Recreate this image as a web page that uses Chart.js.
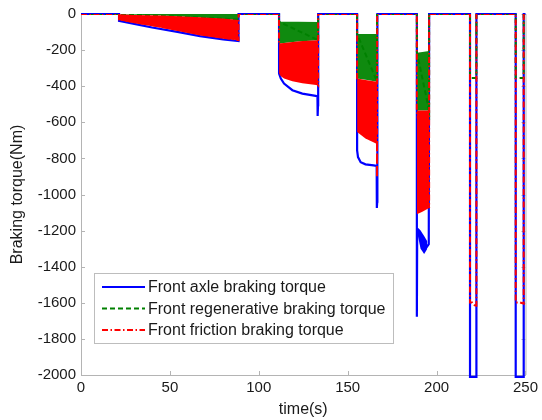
<!DOCTYPE html>
<html><head><meta charset="utf-8">
<script src="https://cdn.jsdelivr.net/npm/chart.js@4.4.0/dist/chart.umd.min.js"></script>
<style>html,body{margin:0;padding:0;background:#fff}#wrap{width:542px;height:420px}</style>
</head><body><div id="wrap"><canvas id="c" width="542" height="420"></canvas></div>
<script>
// ---- tick values ----
const xTickValues = [0, 50, 100, 150, 200, 250];
const yTickValues = [-2000, -1800, -1600, -1400, -1200, -1000, -800, -600, -400, -200, 0];

// ---- series labels ----
const seriesLabels = ['Front axle braking torque', 'Front regenerative braking torque', 'Front friction braking torque'];

// ---- Front axle braking torque (blue) ----
const axleT = [0, 21.4, 21.4, 30, 40, 55, 67, 80, 88.6, 88.6,
  111.4, 111.4, 112.4, 114.2, 118.9, 124.5, 132.0, 133.0, 133.1, 133.3, 133.4,
  155.3, 155.3, 155.8, 157.3, 160, 164.6, 166.3, 166.4, 166.6, 166.7,
  188.9, 188.9, 189.1, 190, 191.5, 193, 194.5, 195.6, 195.8,
  218.8, 218.8, 222.4, 222.4,
  244.5, 244.5, 249.0, 249.0, 250];
const axleV = [0, 0, -38, -55, -75, -100, -123, -141, -150, 0,
  0, -330, -358, -385, -422, -441, -454, -456, -565, -505, 0,
  0, -756, -793, -821, -833, -839, -842, -1075, -1040, 0,
  0, -1677, -1190, -1200, -1250, -1300, -1290, -1275, 0,
  0, -2010, -2010, 0,
  0, -2010, -2010, 0, 0];

// ---- Front regenerative braking torque (green) ----
const regenT = [0, 21.4, 88.6, 88.6, 111.4, 111.4, 133.4, 133.4, 155.3, 155.3, 166.5, 166.5,
  188.9, 188.9, 195.8, 195.8, 218.8, 218.8, 222.4, 222.4, 244.5, 244.5, 249.0, 249.0, 250];
const regenV = [0, 0, -30, 0, 0, -43, -145, 0, 0, -111, -375, 0,
  0, -210, -535, 0, 0, -355, -355, 0, 0, -355, -355, 0, 0];

// ---- Front friction braking torque (red) ----
const fricT = [0, 21.4, 21.4, 88.6, 88.6, 111.4, 111.4, 133.4, 133.4, 155.3, 155.3, 166.5, 166.5, 166.6,
  188.9, 188.9, 195.8, 195.8, 218.8, 218.8, 220, 222.4, 222.4, 244.5, 244.5, 247, 249.0, 249.0, 250];
const fricV = [0, 0, -30, -145, 0, 0, -163, -395, 0, 0, -358, -720, -905, 0,
  0, -535, -1075, 0, 0, -1598, -1598, -1625, 0, 0, -1598, -1598, -1605, 0, 0];

// ---- oscillation envelopes (dense switching regions) ----
const regenBandT  = [[21.4, 45, 65, 88.6], [111.4, 122, 133.4], [155.3, 161, 166.5], [188.9, 192, 195.8]];
const regenBandHi = [[0, 0, 0, 0], [-43, -43, -45], [-111, -111, -111], [-215, -210, -205]];
const regenBandLo = [[-2, -8, -18, -33], [-163, -152, -145], [-358, -365, -375], [-535, -535, -535]];

const fricBandT  = [[21.4, 30, 45, 55, 67, 80, 88.6], [111.4, 112.4, 114.2, 118.9, 124.5, 133.4], [155.3, 160, 166.5], [188.9, 192, 195.8]];
const fricBandHi = [[-2, -5, -9, -13, -18, -25, -33], [-163, -162, -160, -155, -150, -145], [-358, -365, -375], [-535, -535, -535]];
const fricBandLo = [[-34, -51, -76, -96, -119, -137, -146], [-330, -345, -358, -372, -383, -395], [-654, -690, -720], [-1110, -1095, -1075]];

const axleBandT  = [[189.5, 191, 193, 194.8]];
const axleBandHi = [[-1185, -1200, -1230, -1260]];
const axleBandLo = [[-1230, -1300, -1330, -1300]];

// ---- build datasets ----
const FONT = 'Liberation Sans, Arial, Helvetica, sans-serif';
const pts = (ts, vs) => ts.map((x, i) => ({x, y: vs[i]}));
const datasets = [];
datasets.push({label: seriesLabels[2], data: pts(fricT, fricV), borderColor: '#ff0000', borderWidth: 2,
  borderDash: [6, 2.5, 1.5, 2.5], pointRadius: 0, fill: false, order: 10, main: true});
datasets.push({label: seriesLabels[1], data: pts(regenT, regenV), borderColor: '#008000', borderWidth: 2,
  borderDash: [5, 3], pointRadius: 0, fill: false, order: 30, main: true});
datasets.push({label: seriesLabels[0], data: pts(axleT, axleV), borderColor: '#0000ff', borderWidth: 2.2,
  pointRadius: 0, fill: false, order: 50, main: true, clip: {left: 2, right: 2, top: 2, bottom: 6}});

function addBand(ts, his, los, color, order) {
  ts.forEach((t, s) => {
    const hiIdx = datasets.length;
    datasets.push({data: pts(t, his[s]), borderWidth: 0, borderColor: 'rgba(0,0,0,0)', pointRadius: 0, fill: false, order});
    datasets.push({data: pts(t, los[s]), borderWidth: 0, borderColor: 'rgba(0,0,0,0)', pointRadius: 0,
      fill: hiIdx, backgroundColor: color, order});
  });
}
addBand(axleBandT, axleBandHi, axleBandLo, '#0000ff', 45);
addBand(regenBandT, regenBandHi, regenBandLo, '#0f8a0f', 40);
addBand(fricBandT, fricBandHi, fricBandLo, '#ff0000', 20);

const AXIS_COLOR = '#b4b4b4';
const TEXT_COLOR = '#1a1a1a';

const inwardTicks = {
  id: 'inwardTicks',
  beforeDatasetsDraw(chart) {
    const {ctx, chartArea: a, scales: {x, y}} = chart;
    ctx.save();
    ctx.strokeStyle = AXIS_COLOR;
    ctx.lineWidth = 1;
    ctx.beginPath();
    x.ticks.forEach(t => {
      const px = Math.round(x.getPixelForValue(t.value)) + 0.5;
      ctx.moveTo(px, a.bottom); ctx.lineTo(px, a.bottom - 4);
    });
    y.ticks.forEach(t => {
      const py = Math.round(y.getPixelForValue(t.value)) + 0.5;
      ctx.moveTo(a.left, py); ctx.lineTo(a.left + 4, py);
      ctx.moveTo(a.right, py); ctx.lineTo(a.right - 4, py);
    });
    ctx.moveTo(a.right + 0.5, a.top); ctx.lineTo(a.right + 0.5, a.bottom);
    ctx.stroke();
    ctx.restore();
  }
};

const boxLegend = {
  id: 'boxLegend',
  afterDraw(chart) {
    const {ctx} = chart;
    const bx = 94, by = 273, bw = 299, bh = 70;
    ctx.save();
    ctx.fillStyle = '#fff';
    ctx.fillRect(bx, by, bw, bh);
    ctx.strokeStyle = '#bdbdbd';
    ctx.lineWidth = 1;
    ctx.strokeRect(bx + 0.5, by + 0.5, bw, bh);
    const order = [2, 1, 0];
    const rows = [287, 308.5, 330];
    ctx.font = '16px ' + FONT;
    ctx.textBaseline = 'middle';
    ctx.textAlign = 'left';
    order.forEach((di, r) => {
      const ds = chart.data.datasets[di];
      ctx.strokeStyle = ds.borderColor;
      ctx.lineWidth = 2;
      ctx.setLineDash(ds.borderDash || []);
      ctx.beginPath();
      ctx.moveTo(102, rows[r]); ctx.lineTo(145, rows[r]);
      ctx.stroke();
      ctx.setLineDash([]);
      ctx.fillStyle = TEXT_COLOR;
      ctx.fillText(ds.label, 148, rows[r] + 1);
    });
    ctx.restore();
  }
};

new Chart(document.getElementById('c'), {
  type: 'line',
  data: {datasets},
  plugins: [inwardTicks, boxLegend],
  options: {
    responsive: false,
    animation: false,
    devicePixelRatio: 1,
    layout: {padding: {left: 0, right: 14, top: 14, bottom: 0}},
    elements: {line: {tension: 0}},
    plugins: {legend: {display: false}, tooltip: {enabled: false}, filler: {propagate: false}},
    scales: {
      x: {
        type: 'linear', min: 0, max: 250,
        afterBuildTicks: s => { s.ticks = xTickValues.map(v => ({value: v})); },
        afterFit: s => { s.height = 45; },
        grid: {display: false, drawTicks: false},
        border: {display: true, color: AXIS_COLOR, width: 1},
        ticks: {padding: 4, color: TEXT_COLOR, font: {family: FONT, size: 15}, maxRotation: 0,
          callback: v => String(v)},
        title: {display: true, text: 'time(s)', color: TEXT_COLOR, font: {family: FONT, size: 16}, padding: {top: 0, bottom: 1}}
      },
      y: {
        type: 'linear', min: -2000, max: 0,
        afterBuildTicks: s => { s.ticks = yTickValues.map(v => ({value: v})); },
        afterFit: s => { s.width = 81; },
        grid: {display: false, drawTicks: false},
        border: {display: true, color: AXIS_COLOR, width: 1},
        ticks: {padding: 5, color: TEXT_COLOR, font: {family: FONT, size: 15},
          callback: v => String(v)},
        title: {display: true, text: 'Braking torque(Nm)', color: TEXT_COLOR, font: {family: FONT, size: 16}, padding: {top: 8, bottom: 0}}
      }
    }
  }
});
</script></body></html>
